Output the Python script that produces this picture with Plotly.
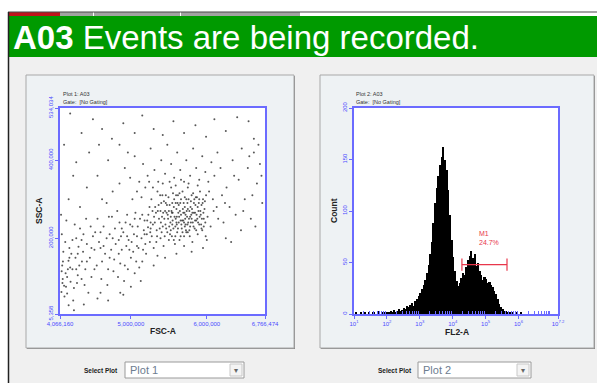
import numpy as np
import plotly.graph_objects as go

W, H = 597, 383

# --- data -------------------------------------------------------------
# Plot 1: FSC-A / SSC-A events (in thousands)
events_lowleft = [(4085, 62), (4102, 95), (4120, 78), (4095, 130), (4140, 110), (4160, 58), (4178, 142),
                  (4110, 165), (4205, 88), (4230, 120), (4190, 175), (4250, 72), (4270, 150), (4300, 105),
                  (4135, 190), (4320, 130), (4280, 200), (4350, 95), (4370, 165), (4240, 40), (4400, 120),
                  (4420, 185), (4180, 28), (4460, 150), (4090, 210), (4150, 245), (4330, 225), (4480, 100),
                  (4500, 205), (4215, 160), (4390, 80), (4260, 235), (4440, 60), (4125, 50), (4310, 178),
                  (4200, 125), (4355, 140), (4470, 230), (4160, 100), (4410, 250), (4290, 85), (4230, 195),
                  (4520, 170), (4105, 140), (4375, 210), (4098, 85), (4145, 75), (4170, 120), (4088, 115),
                  (4300, 160), (4420, 140), (4190, 150), (4280, 120), (4350, 195), (4480, 175)]
events_band = [(4550, 130), (4580, 190), (4610, 95), (4640, 230), (4660, 160), (4700, 120), (4720, 210),
               (4750, 255), (4780, 145), (4800, 185), (4830, 100), (4850, 240), (4880, 170), (4900, 215),
               (4920, 130), (4950, 260), (4970, 195), (5000, 150), (5020, 230), (5050, 110), (5080, 205),
               (5100, 175), (5120, 250), (5150, 140), (5170, 220), (5190, 185), (4560, 250), (4600, 175),
               (4690, 80), (4740, 170), (4790, 225), (4860, 135), (4910, 90), (4940, 180), (4990, 235),
               (5030, 165), (5060, 265), (5110, 125), (5140, 200), (5180, 245), (4620, 140), (4680, 200),
               (4770, 115), (4820, 270), (4870, 205), (4960, 120), (5010, 190), (5070, 140), (5130, 90),
               (5160, 170), (4530, 215), (4710, 255), (4840, 160), (4930, 240), (5040, 210), (4600, 60),
               (4860, 60), (5000, 75), (5090, 230), (5200, 160), (4520, 120), (4640, 180), (4760, 200),
               (4880, 225), (4980, 170), (5080, 180), (5180, 210), (5260, 225), (4600, 215), (4720, 150),
               (4840, 195), (4950, 205), (5050, 250), (5150, 260)]
events_core = [(5210, 210), (5230, 260), (5250, 190), (5270, 300), (5290, 235), (5300, 175), (5320, 280),
               (5340, 220), (5350, 320), (5370, 250), (5390, 200), (5400, 290), (5420, 230), (5430, 180),
               (5450, 270), (5460, 310), (5480, 215), (5490, 250), (5500, 195), (5510, 285), (5520, 240),
               (5530, 330), (5540, 205), (5550, 265), (5560, 225), (5570, 300), (5580, 185), (5590, 250),
               (5600, 275), (5610, 215), (5620, 310), (5630, 240), (5640, 195), (5650, 290), (5660, 260),
               (5670, 225), (5680, 320), (5690, 245), (5700, 205), (5710, 280), (5720, 235), (5730, 300),
               (5740, 255), (5750, 215), (5760, 340), (5770, 270), (5780, 230), (5790, 295), (5800, 250),
               (5810, 190), (5820, 315), (5830, 265), (5840, 225), (5850, 285), (5860, 245), (5870, 305),
               (5880, 210), (5890, 270), (5900, 235), (5910, 320), (5920, 260), (5930, 285), (5940, 220),
               (5950, 300), (5960, 250), (5970, 275), (5980, 240), (5990, 310), (5215, 245), (5245, 280),
               (5275, 205), (5305, 255), (5335, 190), (5365, 285), (5395, 240), (5415, 310), (5445, 205),
               (5475, 285), (5505, 230), (5535, 270), (5565, 195), (5595, 310), (5625, 265), (5655, 205),
               (5685, 275), (5715, 250), (5745, 290), (5775, 205), (5805, 275), (5835, 300), (5865, 260),
               (5895, 290), (5925, 235), (5955, 265), (5985, 205), (5260, 240), (5330, 265), (5380, 225),
               (5440, 250), (5500, 270), (5550, 245), (5605, 235), (5645, 270), (5705, 265), (5755, 240),
               (5815, 240), (5875, 250), (5935, 250), (5575, 255), (5675, 245), (5725, 220), (5455, 235),
               (5525, 220), (5615, 290), (5795, 260), (5585, 230), (5635, 255), (5695, 290), (5765, 250),
               (5845, 265), (5545, 290), (5485, 260), (5665, 235), (5735, 270), (5905, 255)]
events_core_dense = [(5225, 228), (5255, 215), (5285, 270), (5315, 240), (5345, 205), (5355, 270),
                     (5385, 310), (5405, 215), (5425, 265), (5435, 295), (5465, 225), (5470, 265),
                     (5495, 305), (5515, 210), (5525, 255), (5545, 235), (5555, 315), (5565, 280),
                     (5585, 205), (5590, 290), (5605, 255), (5620, 225), (5630, 285), (5640, 315),
                     (5655, 245), (5660, 300), (5680, 215), (5690, 265), (5700, 240), (5710, 305),
                     (5720, 260), (5730, 215), (5745, 235), (5750, 275), (5760, 300), (5770, 220),
                     (5785, 280), (5790, 240), (5800, 310), (5810, 265), (5825, 230), (5830, 290),
                     (5845, 245), (5855, 305), (5860, 220), (5880, 280), (5885, 240), (5900, 300),
                     (5915, 270), (5930, 225), (5945, 290), (5960, 230), (5975, 295), (5410, 255),
                     (5390, 270), (5460, 290), (5540, 265), (5600, 240), (5710, 230), (5780, 255)]
events_upper = [(4850, 340), (4920, 380), (4990, 355), (5050, 410), (5110, 345), (5160, 390), (5220, 360),
                (5260, 430), (5310, 375), (5360, 345), (5400, 400), (5450, 365), (5480, 440), (5530, 390),
                (5570, 355), (5610, 420), (5650, 375), (5700, 345), (5730, 400), (5780, 360), (5820, 430),
                (5860, 380), (5900, 350), (5940, 410), (5980, 370), (6020, 345), (6060, 395), (6100, 360),
                (6140, 420), (6180, 380), (5020, 300), (5080, 320), (5140, 305), (5190, 330), (5240, 345),
                (5290, 330), (5420, 340), (5510, 345), (5590, 335), (5660, 350), (5750, 330), (5880, 335),
                (6030, 320), (6080, 300), (6130, 280), (6010, 255), (6050, 230), (6090, 270), (6150, 250),
                (6200, 310)]
events_top = [(4200, 520), (4350, 470), (4500, 505), (4620, 480), (4750, 455), (4900, 495), (5050, 470),
              (5150, 515), (5300, 480), (5420, 465), (5560, 500), (5700, 470), (5850, 490), (5990, 460),
              (6100, 505), (6250, 475), (6400, 510), (6550, 500), (6620, 455), (4280, 395), (4420, 330),
              (4560, 360), (4700, 400), (4180, 300), (4330, 280), (4450, 420), (4620, 300), (4760, 320),
              (4120, 440), (4240, 360), (4080, 260), (4580, 440), (4680, 290), (4850, 440), (4960, 420)]
events_right = [(6220, 240), (6260, 330), (6300, 280), (6340, 400), (6380, 260), (6420, 350), (6460, 430),
                (6500, 300), (6540, 380), (6580, 250), (6620, 420), (6660, 340), (6700, 390), (6730, 290),
                (6250, 200), (6320, 190), (6450, 220), (6600, 310), (6680, 440), (6240, 290), (6360, 360),
                (6480, 270), (6560, 410), (6640, 230), (6720, 360)]
events_low = [(4250, 15), (4380, 30), (4560, 45), (4700, 40), (4900, 55), (5300, 130), (5450, 150),
              (5600, 160), (5800, 165), (5950, 175), (6000, 195), (5350, 155), (5700, 180)]

fsc_ticks = [4066160, 5000000, 6000000, 6766474]
fsc_ticktext = ["4,066,160", "5,000,000", "6,000,000", "6,766,474"]
ssc_ticks = [5358, 200000, 400000, 534034]
ssc_ticktext = ["5,358", "200,000", "400,000", "534,034"]

# Plot 2: FL2-A histogram, counts per 0.05-decade channel starting at 10^1
fl2_start, fl2_width = 1.0, 0.05
fl2_counts = [0, 1, 0, 0, 2, 0, 1, 0, 0, 1,
              0, 2, 1, 0, 1, 3, 0, 1, 2, 1,
              2, 1, 3, 2, 4, 2, 3, 5, 3, 4,
              6, 5, 8, 7, 9, 11, 8, 13, 15, 17,
              20, 24, 28, 33, 40, 48, 58, 70, 88, 108,
              122, 134, 145, 152, 162, 150, 140, 120, 96, 72,
              55, 42, 32, 27, 30, 35, 40, 38, 46, 52,
              56, 61, 54, 58, 47, 50, 42, 38, 33, 36,
              34, 30, 31, 28, 26, 22, 19, 15, 10, 7,
              5, 3, 3, 2, 2, 1, 1, 0, 1, 0,
              0, 1, 0, 0, 0, 0, 0, 0, 0, 0,
              0, 0, 0, 0, 0, 0, 0, 0, 0, 0, 0, 0, 0, 0]
count_ticks = [0, 50, 100, 150, 200]
decade_ticks = [1, 2, 3, 4, 5, 6, 7.2]
decade_ticktext = ["10<sup>1</sup>", "10<sup>2</sup>", "10<sup>3</sup>", "10<sup>4</sup>",
                   "10<sup>5</sup>", "10<sup>6</sup>", "10<sup>7.2</sup>"]

m1_range = [4.28, 5.65]
m1_level = 48
m1_percent = "24.7%"

# --- helpers ----------------------------------------------------------
def px(x):
    return x / W

def py(y):
    return 1 - y / H

def rect(x0, y0, x1, y1, fill, line=None, lw=1):
    return dict(type="rect", xref="paper", yref="paper", layer="below",
                x0=px(x0), x1=px(x1), y0=py(y1), y1=py(y0),
                fillcolor=fill, line=dict(color=line or fill, width=lw if line else 0))

def note(text, x, y, size, color="#000", xanchor="left", angle=0, family="Liberation Sans"):
    return dict(text=text, x=px(x), y=py(y), xref="paper", yref="paper", showarrow=False,
                xanchor=xanchor, yanchor="middle", textangle=angle,
                font=dict(size=size, color=color, family=family))

all_events = (events_lowleft + events_band + events_core + events_core_dense + events_upper
              + events_top + events_right + events_low)
fsc = [e[0] * 1000 for e in all_events]
ssc = [e[1] * 1000 for e in all_events]

fl2_x = [fl2_start + fl2_width * (i + 0.5) for i in range(len(fl2_counts))]

blue = "#6b6bff"
tick_blue = "#4a4aff"

fig = go.Figure()
fig.add_trace(go.Scatter(x=fsc, y=ssc, mode="markers", xaxis="x", yaxis="y",
                         marker=dict(size=2, color="#3a3a3a", opacity=0.85), hoverinfo="skip"))
fig.add_trace(go.Bar(x=fl2_x, y=fl2_counts, width=fl2_width, xaxis="x2", yaxis="y2",
                     marker=dict(color="black", line=dict(width=0)), hoverinfo="skip"))

# M1 marker
fig.add_trace(go.Scatter(x=[m1_range[0], m1_range[1]], y=[m1_level, m1_level], mode="lines",
                         xaxis="x2", yaxis="y2", line=dict(color="#e8364a", width=1.2), hoverinfo="skip"))
for xv in m1_range:
    fig.add_trace(go.Scatter(x=[xv, xv], y=[m1_level - 6, m1_level + 6], mode="lines",
                             xaxis="x2", yaxis="y2", line=dict(color="#e8364a", width=1.2), hoverinfo="skip"))

axis_common = dict(showgrid=False, zeroline=False, showline=True, mirror=True, linecolor=blue,
                   linewidth=1.5, ticks="outside", ticklen=3, tickcolor=blue, automargin=False,
                   tickfont=dict(size=6, color=tick_blue, family="Liberation Sans"))

minor_vals = [n + np.log10(k) for n in range(1, 8) for k in range(2, 10) if n + np.log10(k) < 7.2]

fig.update_layout(
    width=W, height=H, margin=dict(l=0, r=0, t=0, b=0, pad=0), autosize=False,
    paper_bgcolor="white", plot_bgcolor="rgba(0,0,0,0)", showlegend=False, bargap=0,
    xaxis=dict(axis_common, domain=[px(60), px(265)], range=[fsc_ticks[0], fsc_ticks[-1]],
               tickvals=fsc_ticks, ticktext=fsc_ticktext, anchor="y"),
    yaxis=dict(axis_common, domain=[py(314), py(108)], range=[ssc_ticks[0], ssc_ticks[-1]],
               tickvals=ssc_ticks, ticktext=ssc_ticktext, tickangle=-90, anchor="x"),
    xaxis2=dict(axis_common, domain=[px(354), px(558)], range=[1, 7.2],
                tickvals=decade_ticks, ticktext=decade_ticktext, anchor="y2",
                minor=dict(tickvals=minor_vals, ticks="inside", ticklen=3, tickcolor=blue)),
    yaxis2=dict(axis_common, domain=[py(314), py(108)], range=[0, 200],
                tickvals=count_ticks, tickangle=-90, anchor="x2"),
)

shapes = [
    rect(9, 57, 597, 383, "#f0f0f0"),
    rect(9, 16, 597, 57, "#009a00"),
    rect(9, 12, 60, 16, "#c0141c"),
    rect(60, 12, 300, 16, "#a3a3a3"),
    rect(93, 12, 94, 16, "#ffffff"),
    rect(180, 12, 181, 16, "#ffffff"),
    # panels
    rect(27, 76, 295, 349, "#8a8a8a"),
    rect(26, 75, 294, 348, "#eef2f4", "#a8a8a8"),
    rect(321, 76, 595, 349, "#8a8a8a"),
    rect(320, 75, 594, 348, "#eef2f4", "#a8a8a8"),
    rect(60, 108, 265, 314, "white"),
    rect(354, 108, 558, 314, "white"),
    # dropdowns
    rect(125, 362, 244, 378, "white", "#9a9a9a"),
    rect(230, 364, 242, 376, "#f4f4f4", "#c8c8c8"),
    rect(418, 362, 531, 378, "white", "#9a9a9a"),
    rect(517, 364, 529, 376, "#f4f4f4", "#c8c8c8"),
    # frame lines
    dict(type="line", xref="paper", yref="paper", x0=px(8), x1=px(597), y0=py(12), y1=py(12),
         line=dict(color="#4a4a4a", width=1.2)),
    dict(type="line", xref="paper", yref="paper", x0=px(8.5), x1=px(8.5), y0=py(12), y1=0,
         line=dict(color="#222", width=1.5)),
]

annotations = [
    note("<b>A03</b> Events are being recorded.", 11, 37, 33, "white"),
    note("Plot 1: A03", 61, 94, 5.5, "#333"),
    note("Gate:  [No Gating]", 61, 102, 5.5, "#333"),
    note("Plot 2: A03", 354, 94, 5.5, "#333"),
    note("Gate:  [No Gating]", 354, 102, 5.5, "#333"),
    note("<b>SSC-A</b>", 39, 211, 8.5, "#222", "center", -90),
    note("<b>FSC-A</b>", 163, 331, 8.5, "#222", "center"),
    note("<b>Count</b>", 334, 211, 8.5, "#222", "center", -90),
    note("<b>FL2-A</b>", 457, 332, 8.5, "#222", "center"),
    note("<b>Select Plot</b>", 101, 370, 6.5, "#222", "center"),
    note("Plot 1", 128, 370, 11, "#6d7d90"),
    note("▾", 236, 370, 8, "#666", "center"),
    note("<b>Select Plot</b>", 395, 370, 6.5, "#222", "center"),
    note("Plot 2", 421, 370, 11, "#6d7d90"),
    note("▾", 523, 370, 8, "#666", "center"),
    dict(text="M1<br>" + m1_percent, x=4.74, y=m1_level + 26, xref="x2", yref="y2", showarrow=False,
         xanchor="left", yanchor="middle", align="left",
         font=dict(size=7, color="#e8364a", family="Liberation Sans")),
]

fig.update_layout(shapes=shapes, annotations=annotations)
# page body has a default 8px margin; drop it so the figure sits at the window origin
fig.write_html("out.html", config={"displayModeBar": False},
               post_script="document.body.style.margin='0';")
